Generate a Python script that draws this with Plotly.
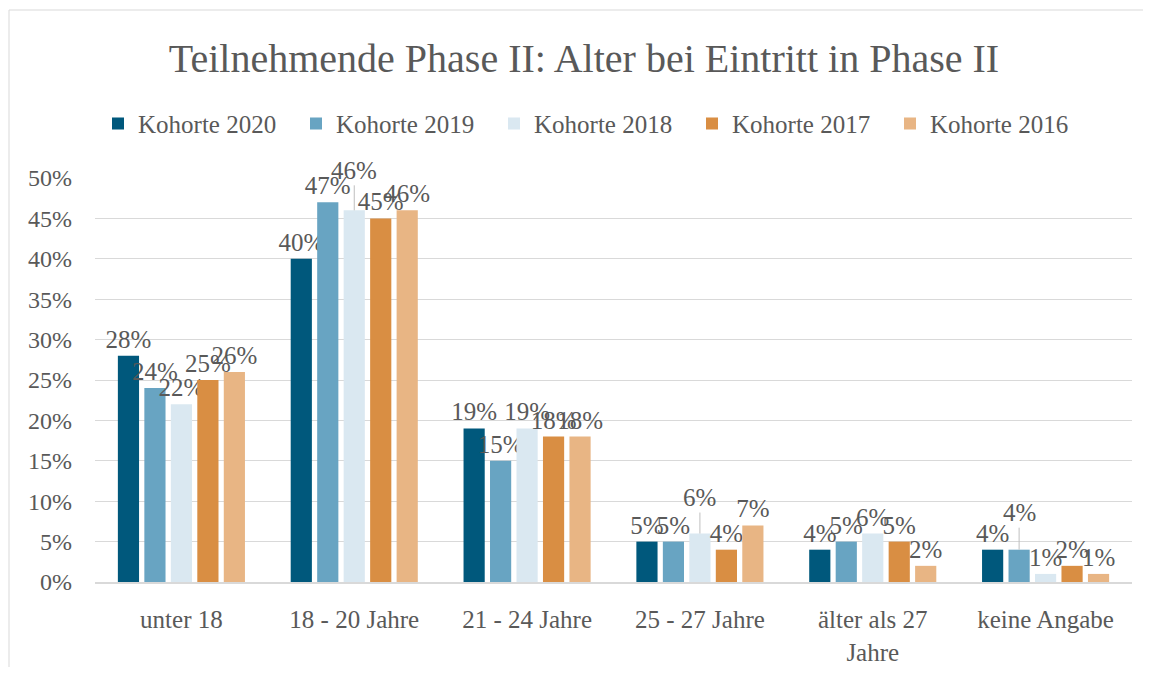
import plotly.graph_objects as go

categories = ["unter 18", "18 - 20 Jahre", "21 - 24 Jahre", "25 - 27 Jahre",
              "älter als 27<br>Jahre", "keine Angabe"]
series_names = ["Kohorte 2020", "Kohorte 2019", "Kohorte 2018", "Kohorte 2017", "Kohorte 2016"]
kohorte_2020 = [0.28, 0.40, 0.19, 0.05, 0.04, 0.04]
kohorte_2019 = [0.24, 0.47, 0.15, 0.05, 0.05, 0.04]
kohorte_2018 = [0.22, 0.46, 0.19, 0.06, 0.06, 0.01]
kohorte_2017 = [0.25, 0.45, 0.18, 0.04, 0.05, 0.02]
kohorte_2016 = [0.26, 0.46, 0.18, 0.07, 0.02, 0.01]
series_values = [kohorte_2020, kohorte_2019, kohorte_2018, kohorte_2017, kohorte_2016]
colors = ["#00587C", "#68A4C2", "#DAE8F1", "#D98E43", "#E8B584"]

# labels lifted with a leader line: (series index, category index, lift in px)
lifted = [(2, 1, 40), (2, 3, 36), (1, 5, 37)]

FONT = "Liberation Serif"
GRAY = "#595959"
BARGAP = 0.234
GROUPGAP = 0.2

fig = go.Figure()
for si, (name, vals, col) in enumerate(zip(series_names, series_values, colors)):
    texts = []
    for ci, v in enumerate(vals):
        if any(s == si and c == ci for s, c, _ in lifted):
            texts.append("")
        else:
            texts.append(f"{round(v*100)}%")
    fig.add_trace(go.Bar(
        name=name, x=categories, y=vals, marker_color=col,
        marker_line_width=0,
        text=texts, textposition="outside", constraintext="none",
        cliponaxis=False,
        textfont=dict(family=FONT, size=25, color=GRAY),
        hoverinfo="skip",
    ))

n = len(series_names)
slot = (1 - BARGAP) / n
for si, ci, lift in lifted:
    v = series_values[si][ci]
    xoff = -(1 - BARGAP) / 2 + slot * (si + 0.5)
    fig.add_annotation(
        x=ci + xoff, y=v, xref="x", yref="y",
        text=f"{round(v*100)}%", showarrow=True, arrowhead=0,
        arrowcolor="#BFBFBF", arrowwidth=1, ax=0, ay=-lift, standoff=0,
        font=dict(family=FONT, size=25, color=GRAY),
    )

W, H = 1135, 659
L, T, PW, PH = 87, 170, 1037, 404

bx = (1 - L) / PW
by = (T + PH - 2) / PH
bx_right = (W - L) / PW
by_bottom = -(H - T - PH) / PH

fig.update_layout(
    width=W, height=H,
    paper_bgcolor="white", plot_bgcolor="white",
    margin=dict(l=L, r=W - L - PW, t=T, b=H - T - PH, autoexpand=False),
    barmode="group", bargap=BARGAP, bargroupgap=GROUPGAP,
    title=dict(text="Teilnehmende Phase II: Alter bei Eintritt in Phase II",
               x=576 / W, xanchor="center", y=1 - 50 / H, yanchor="middle",
               xref="container", yref="container",
               font=dict(family=FONT, size=40, color=GRAY)),
    legend=dict(orientation="h", x=(90 - L) / PW, xanchor="left", y=1.134, yanchor="middle",
                font=dict(family=FONT, size=25, color=GRAY),
                entrywidth=153, bgcolor="rgba(0,0,0,0)"),
    font=dict(family=FONT, color=GRAY),
    xaxis=dict(showgrid=False, showline=True, linecolor="#D9D9D9", linewidth=2,
               ticks="", tickfont=dict(family=FONT, size=25, color=GRAY),
               ticklabelstandoff=14, fixedrange=True),
    yaxis=dict(range=[0, 0.5], dtick=0.05, tickformat=".0%", showgrid=True,
               gridcolor="#D9D9D9", gridwidth=1, zeroline=False, showline=False,
               ticks="", tickfont=dict(family=FONT, size=24, color=GRAY),
               ticklabelstandoff=22, fixedrange=True),
    shapes=[
        dict(type="line", xref="paper", yref="paper", x0=bx, x1=bx, y0=by_bottom, y1=by,
             line=dict(color="#D9D9D9", width=1), layer="below"),
        dict(type="line", xref="paper", yref="paper", x0=bx, x1=bx_right, y0=by, y1=by,
             line=dict(color="#D9D9D9", width=1), layer="below"),
    ],
)

fig.write_html("out.html", config={"displayModeBar": False})
